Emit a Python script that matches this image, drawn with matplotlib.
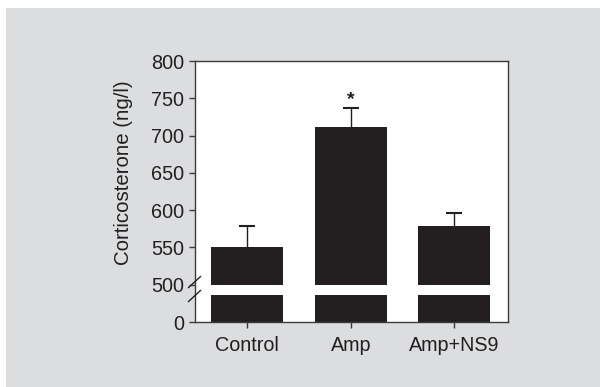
import numpy as np
import matplotlib
matplotlib.use("Agg")
import matplotlib.pyplot as plt
from matplotlib.patches import Rectangle

# data
groups = ["Control", "Amp", "Amp+NS9"]
means = [551, 711, 579]
sems = [28, 26, 17]
yticks = [0, 500, 550, 600, 650, 700, 750, 800]

plt.rcParams['font.family'] = ['Liberation Sans', 'DejaVu Sans']

dark = '#231f20'
grey_bg = '#dcdddf'

fig = plt.figure(figsize=(6, 3.87), dpi=100, facecolor='white')
fig.patches.append(Rectangle((6 / 600, 0), 1, 1 - 8 / 387, transform=fig.transFigure,
                             facecolor=grey_bg, edgecolor='none', zorder=-10))

ax = fig.add_axes([194.5 / 600, 1 - 322 / 387, (508 - 194.5) / 600, (322 - 61) / 387])
ax.set_facecolor('white')


# broken axis: 0-500 squeezed into one tick step
def fwd(v):
    v = np.asarray(v, dtype=float)
    return np.where(v < 500, 450 + v / 10, v)


def inv(u):
    u = np.asarray(u, dtype=float)
    return np.where(u < 500, (u - 450) * 10, u)


ax.set_yscale('function', functions=(fwd, inv))

x = np.arange(len(groups))
ax.bar(x, means, width=0.7, color=dark, zorder=1)
eb = ax.errorbar(x, means, yerr=[np.zeros(len(sems)), sems], fmt='none', ecolor=dark,
                 elinewidth=1, capsize=5.5, capthick=1.5, zorder=1.2)
# only the upper caps
eb[1][0].set_visible(False)
# white gap across the bars at the break
ax.axhspan(366, 499.5, color='white', zorder=1.5, lw=0)

ax.text(1, means[1] + sems[1] + 0.5, '*', ha='center', va='bottom', fontsize=14,
        color=dark, fontweight='bold')

ax.set_ylim(0, 800)
ax.set_xlim(-0.51, 2.52)
ax.set_yticks(yticks)
ax.set_yticklabels([str(t) for t in yticks])
ax.set_xticks(x)
ax.set_xticklabels(groups)

for s in ax.spines.values():
    s.set_color('#3a3a3a')
    s.set_linewidth(1)
ax.tick_params(axis='both', direction='out', length=4, width=1, color='#3a3a3a',
               labelsize=14.3, labelcolor=dark)
ax.tick_params(axis='y', pad=3.5)
ax.tick_params(axis='x', pad=6, labelsize=14.2)

ax.set_ylabel('Corticosterone (ng/l)', fontsize=14.7, color=dark)
ax.yaxis.set_label_coords(-0.195, 0.573)

# break marks on left spine
for yc in (0.153, 0.0996):
    ax.plot([-0.019, 0.019], [yc - 0.021, yc + 0.021], transform=ax.transAxes,
            color=dark, lw=1, clip_on=False, zorder=5)

fig.savefig('out.png', dpi=100, facecolor=fig.get_facecolor())
